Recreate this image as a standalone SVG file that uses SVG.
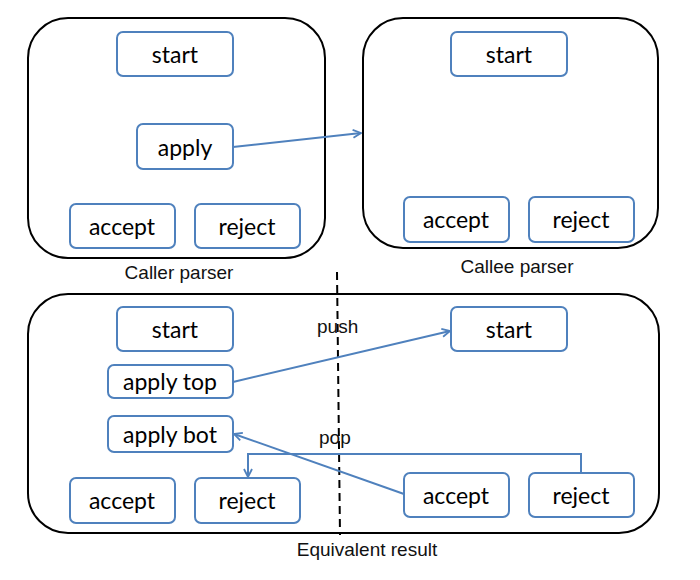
<svg xmlns="http://www.w3.org/2000/svg" width="700" height="580" viewBox="0 0 700 580">
<defs>
<style>
.cont{fill:#fff;stroke:#000;stroke-width:2}
.node rect{fill:#fff;stroke:#4f81bd;stroke-width:2}
.node text{font-family:Lato,"Open Sans","Liberation Sans",sans-serif;font-size:23px;fill:#000;text-anchor:middle}
.lbl{font-family:"Liberation Sans",Arial,sans-serif;font-size:19px;fill:#111}
.edge{fill:none;stroke:#4f81bd;stroke-width:2}
</style>
<marker id="arr" viewBox="0 0 10 10" refX="9" refY="5" markerWidth="10" markerHeight="10" markerUnits="userSpaceOnUse" orient="auto">
<path d="M1,1 L9,5 L1,9" fill="none" stroke="#4f81bd" stroke-width="1.8"/>
</marker>
</defs>
<rect fill="#fff" width="700" height="580"/>
<g id="caller">
<rect class="cont" x="28" y="18" width="297" height="240" rx="40"/>
<text class="lbl" x="179" y="279" text-anchor="middle">Caller parser</text>
</g>
<g id="callee">
<rect class="cont" x="363" y="18" width="295" height="230" rx="40"/>
<text class="lbl" x="517" y="273" text-anchor="middle">Callee parser</text>
</g>
<g id="equiv">
<rect class="cont" x="28" y="294" width="631" height="239" rx="40"/>
<text class="lbl" x="367" y="556" text-anchor="middle">Equivalent result</text>
</g>
<g id="n1" class="node"><rect x="117" y="32" width="116" height="44" rx="6"/><text x="175" y="63">start</text></g>
<g id="n2" class="node"><rect x="137" y="124" width="96" height="45" rx="6"/><text x="185" y="156">apply</text></g>
<g id="n3" class="node"><rect x="70" y="204" width="105" height="44" rx="6"/><text x="122" y="235">accept</text></g>
<g id="n4" class="node"><rect x="195" y="204" width="105" height="44" rx="6"/><text x="247" y="235">reject</text></g>
<g id="n5" class="node"><rect x="451" y="32" width="116" height="44" rx="6"/><text x="509" y="63">start</text></g>
<g id="n6" class="node"><rect x="404" y="197" width="105" height="45" rx="6"/><text x="456" y="228">accept</text></g>
<g id="n7" class="node"><rect x="529" y="197" width="105" height="45" rx="6"/><text x="581" y="228">reject</text></g>
<g id="n8" class="node"><rect x="117" y="307" width="116" height="44" rx="6"/><text x="175" y="338">start</text></g>
<g id="n9" class="node"><rect x="108" y="365" width="125" height="33" rx="6"/><text x="170" y="390">apply top</text></g>
<g id="n10" class="node"><rect x="108" y="416" width="125" height="36" rx="6"/><text x="170" y="443">apply bot</text></g>
<g id="n11" class="node"><rect x="70" y="478" width="105" height="45" rx="6"/><text x="122" y="509">accept</text></g>
<g id="n12" class="node"><rect x="195" y="478" width="105" height="45" rx="6"/><text x="247" y="509">reject</text></g>
<g id="n13" class="node"><rect x="451" y="307" width="116" height="44" rx="6"/><text x="509" y="338">start</text></g>
<g id="n14" class="node"><rect x="404" y="473" width="105" height="44" rx="6"/><text x="456" y="504">accept</text></g>
<g id="n15" class="node"><rect x="529" y="473" width="105" height="44" rx="6"/><text x="581" y="504">reject</text></g>
<g id="connectors">
<line x1="337" y1="272" x2="340" y2="535" stroke="#000" stroke-width="2" stroke-dasharray="8,5"/>
<path class="edge" d="M233,147 L361,133" marker-end="url(#arr)"/>
<path class="edge" d="M233,382 L450,331" marker-end="url(#arr)"/>
<path class="edge" d="M404,494 L234,434" marker-end="url(#arr)"/>
<path class="edge" d="M581,473 L581,454 L248,454 L248,477" marker-end="url(#arr)"/>
<text class="lbl" x="317" y="333">push</text>
<text class="lbl" x="319" y="444">pop</text>
</g>
</svg>
